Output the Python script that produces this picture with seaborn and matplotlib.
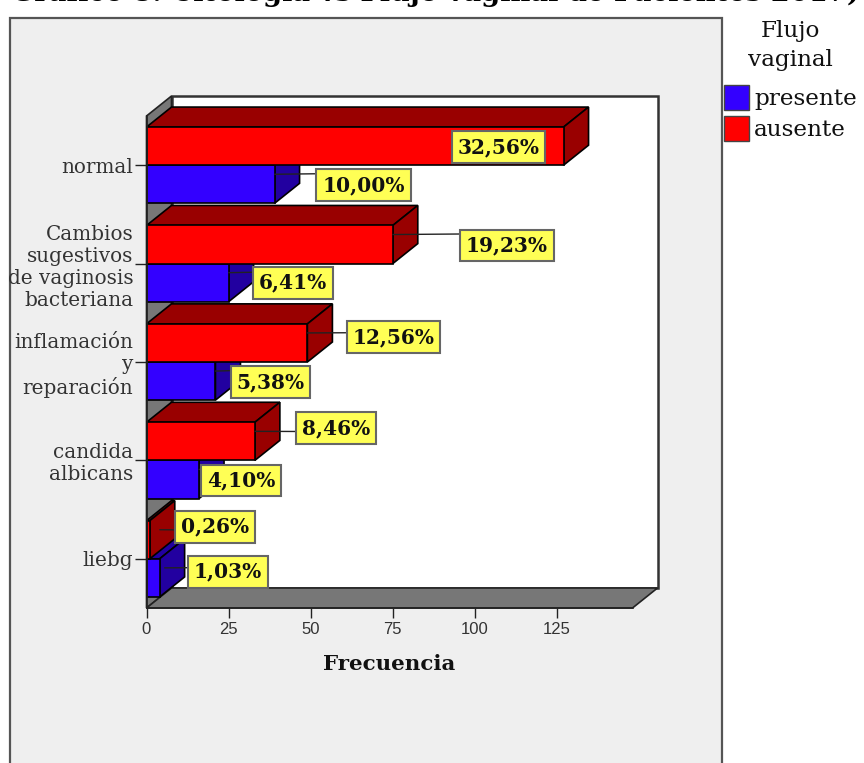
import matplotlib
matplotlib.use("Agg")
import matplotlib.pyplot as plt
from matplotlib.patches import Polygon, Rectangle, Patch
import pandas as pd
import seaborn as sns

# Cytology findings by vaginal discharge status
categories = ["normal", "Cambios\nsugestivos\nde vaginosis\nbacteriana",
              "inflamación\ny\nreparación", "candida\nalbicans", "liebg"]
ausente_counts = [127, 75, 49, 33, 1]
presente_counts = [39, 25, 21, 16, 4]
ausente_pct = [32.56, 19.23, 12.56, 8.46, 0.26]
presente_pct = [10.00, 6.41, 5.38, 4.10, 1.03]
x_ticks = [0, 25, 50, 75, 100, 125]

W, H = 864, 763
COL = {"ausente": ("#ff0000", "#990000"), "presente": ("#3300ff", "#2200a0")}
WALL = "#777777"

sns.set_theme(style="white")
fig = plt.figure(figsize=(W / 100, H / 100), dpi=100, facecolor="white")


def fx(px):
    return px / W


def fy(py):
    return 1 - py / H


# Outer grey chart panel, running off the lower edge
fig.add_artist(Rectangle((fx(10), fy(800)), fx(712), fy(18) - fy(800),
                         transform=fig.transFigure, facecolor="#efefef",
                         edgecolor="#555555", linewidth=1.6, zorder=0))

fig.text(fx(435), fy(1), "Gráfico 8: Citología vs Flujo vaginal de Pacientes 2017)",
         family="DejaVu Serif", weight="bold", fontsize=19.7, ha="center",
         va="baseline", color="black", zorder=0.5)

left, right, top, bottom = 146.5, 632.5, 116, 608
ax = fig.add_axes([fx(left), fy(bottom), fx(right - left), (bottom - top) / H])
ax.set_zorder(2)
ax.patch.set_visible(False)

df = pd.DataFrame({
    "categoria": categories * 2,
    "frecuencia": ausente_counts + presente_counts,
    "flujo": ["ausente"] * 5 + ["presente"] * 5,
})
sns.barplot(data=df, x="frecuencia", y="categoria", hue="flujo",
            hue_order=["ausente", "presente"],
            palette={k: v[0] for k, v in COL.items()},
            order=categories, width=0.775, saturation=1, dodge=True,
            edgecolor="black", linewidth=1.2, legend=False, ax=ax)

xmax = 148.0
ax.set_xlim(0, xmax)
ax.set_ylim(4.5, -0.5)

# Depth of the pseudo-3D box, in data units (25 px across, 20 px up)
dx = 25 / ((right - left) / xmax)
dy = 20 / ((bottom - top) / 5)


def face(points, fc, z, ec="black", lw=1.2):
    ax.add_patch(Polygon(points, closed=True, facecolor=fc, edgecolor=ec,
                         linewidth=lw, clip_on=False, zorder=z))


# Seaborn's bars, collected before the box faces are added
bars = [p for p in ax.patches if isinstance(p, Rectangle)]
red_bars, blue_bars = bars[:5], bars[5:10]

# Back wall, left wall and floor
face([(dx, -0.5 - dy), (xmax + dx, -0.5 - dy), (xmax + dx, 4.5 - dy), (dx, 4.5 - dy)],
     "white", 0.5, ec="#333333", lw=1.8)
face([(0, -0.5), (dx, -0.5 - dy), (dx, 4.5 - dy), (0, 4.5)], WALL, 0.6, ec="#222222")
face([(0, 4.5), (dx, 4.5 - dy), (xmax + dx, 4.5 - dy), (xmax, 4.5)], WALL, 0.6, ec="#222222")

# Extrude each bar: top face and end face
for group, key, z in ((blue_bars, "presente", 2), (red_bars, "ausente", 3)):
    side = COL[key][1]
    for b in group:
        x1, y0, y1 = b.get_x() + b.get_width(), b.get_y(), b.get_y() + b.get_height()
        face([(0, y0), (dx, y0 - dy), (x1 + dx, y0 - dy), (x1, y0)], side, z)
        face([(x1, y0), (x1 + dx, y0 - dy), (x1 + dx, y1 - dy), (x1, y1)], side, z)
        b.set_zorder(z + 0.1)
        b.set_clip_on(False)

# Percentage call-outs: box centre in pixels from the bar's end, and how far
# along the depth the leader starts
red_offsets = [(-65, 1, 0), (114, 1, 0), (86, -6, 0), (81, -13, 0), (65, -13, 0.4)]
blue_offsets = [(89, 1, 0), (64, 0, 0), (55, 1, 0), (42, 1, 0), (68, -6, 0.2)]
for group, pcts, offsets in ((red_bars, ausente_pct, red_offsets),
                             (blue_bars, presente_pct, blue_offsets)):
    for b, pct, (ox, oy, along) in zip(group, pcts, offsets):
        x1, yc = b.get_x() + b.get_width(), b.get_y() + b.get_height() / 2
        arrow = None if ox < 0 else dict(arrowstyle="-", color="#222222", lw=1,
                                         shrinkA=0, shrinkB=0,
                                         relpos=(0, 0.5 + (oy + 10) / 19))
        ax.annotate(f"{pct:.2f}%".replace(".", ","),
                    xy=(x1 + along * dx, yc - dy / 2),
                    xytext=(ox - along * 25, -(oy + 10)), textcoords="offset pixels",
                    ha="center", va="center", family="DejaVu Serif", weight="bold",
                    fontsize=14.5, color="#111111", annotation_clip=False, zorder=10,
                    bbox=dict(boxstyle="square,pad=0.29", facecolor="#ffff55",
                              edgecolor="#666666", linewidth=1.5),
                    arrowprops=arrow)

# Axes, ticks and labels
for name in ("top", "right"):
    ax.spines[name].set_visible(False)
for name in ("left", "bottom"):
    ax.spines[name].set_color("#222222")
    ax.spines[name].set_linewidth(1.2)
    ax.spines[name].set_zorder(5)
ax.set_xticks(x_ticks)
ax.tick_params(axis="x", length=7.2, width=1, color="#222222", pad=3, bottom=True,
               labelsize=12, labelcolor="#333333")
for t in ax.get_xticklabels():
    t.set_family("Liberation Sans")
ax.tick_params(axis="y", length=8.6, width=1, color="#222222", pad=1, left=True,
               labelsize=14.4, labelcolor="#333333")
for t in ax.get_yticklabels():
    t.set_family("DejaVu Serif")
ax.set_ylabel("")
ax.set_xlabel("")
fig.text(fx(389), fy(664), "Frecuencia", family="DejaVu Serif", weight="bold",
         fontsize=15.4, ha="center", va="center", color="#111111", zorder=3)

# Legend
handles = [Patch(facecolor=COL[k][0], edgecolor="#444444", linewidth=1, label=k)
           for k in ("presente", "ausente")]
leg = fig.legend(handles=handles, title="Flujo\nvaginal", frameon=False,
                 loc="upper left", bbox_to_anchor=(fx(722), fy(18)),
                 prop={"family": "DejaVu Serif", "size": 16.7},
                 title_fontproperties={"family": "DejaVu Serif", "size": 16.7},
                 handlelength=1.08, handleheight=1.3, handletextpad=0.2,
                 labelspacing=0.25, borderaxespad=0, borderpad=0.1)
leg.get_title().set_multialignment("center")
leg.get_title().set_linespacing(1.38)
leg.get_title().set_color("#111111")
leg._legend_box.sep = 10
for t in leg.get_texts():
    t.set_color("#111111")

fig.savefig("out.png", dpi=100, facecolor="white")
